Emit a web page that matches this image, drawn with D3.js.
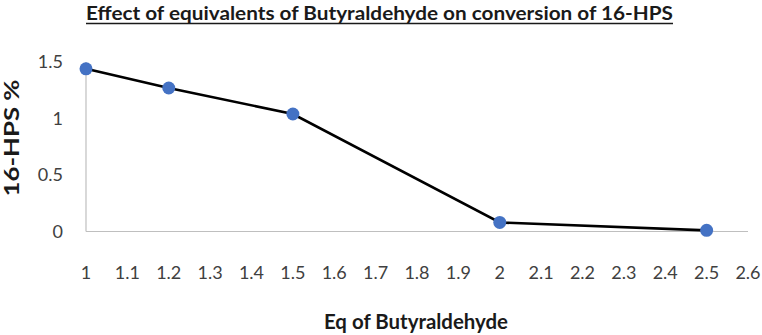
<!DOCTYPE html>
<html>
<head>
<meta charset="utf-8">
<script src="https://cdn.jsdelivr.net/npm/d3@7"></script>
<style>
  body { margin: 0; background: #fff; }
  svg { display: block; font-family: Lato, "Open Sans", sans-serif; }
</style>
</head>
<body>
<script>
// data
const eqValues = [1, 1.2, 1.5, 2, 2.5];
const hpsValues = [1.44, 1.27, 1.04, 0.08, 0.01];
const xTicks = d3.range(10, 27).map(d => d / 10);
const yTicks = [0, 0.5, 1, 1.5];

const width = 762, height = 335;
const margin = { top: 62, right: 14, bottom: 103.5, left: 86 };

const svg = d3.select("body").append("svg")
    .attr("width", width)
    .attr("height", height);

let x = d3.scaleLinear()
    .domain([1, 2.6])
    .range([margin.left, width - margin.right]);

let y = d3.scaleLinear()
    .domain([0, 1.5])
    .range([height - margin.bottom, margin.top]);

// title
svg.append("text")
    .attr("x", 86)
    .attr("y", 20)
    .attr("textLength", 587)
    .attr("lengthAdjust", "spacingAndGlyphs")
    .style("font-size", "19px")
    .style("font-weight", "bold")
    .attr("fill", "#1a1a1a")
    .text("Effect of equivalents of Butyraldehyde on conversion of 16-HPS");

svg.append("line")
    .attr("x1", 86).attr("x2", 673)
    .attr("y1", 23.5).attr("y2", 23.5)
    .attr("stroke", "#1a1a1a")
    .attr("stroke-width", 1.6);

// axes lines
svg.append("line")
    .attr("x1", x(1)).attr("x2", x(2.6))
    .attr("y1", y(0)).attr("y2", y(0))
    .attr("stroke", "#bfbfbf")
    .attr("stroke-width", 1.2);

svg.append("line")
    .attr("x1", x(1)).attr("x2", x(1))
    .attr("y1", y(0)).attr("y2", y(1.5))
    .attr("stroke", "#bfbfbf")
    .attr("stroke-width", 1.2);

// tick labels
svg.append("g")
    .selectAll("text")
    .data(xTicks)
    .join("text")
    .attr("x", d => x(d))
    .attr("y", 279)
    .attr("text-anchor", "middle")
    .style("font-size", "18px")
    .attr("fill", "#404040")
    .text(d => d3.format("")(d));

svg.append("g")
    .selectAll("text")
    .data(yTicks)
    .join("text")
    .attr("x", 63)
    .attr("y", d => y(d) + 6)
    .attr("text-anchor", "end")
    .style("font-size", "18px")
    .attr("fill", "#404040")
    .text(d => d3.format("")(d));

// axis titles
svg.append("text")
    .attr("x", 416)
    .attr("y", 329)
    .attr("text-anchor", "middle")
    .attr("textLength", 184)
    .attr("lengthAdjust", "spacingAndGlyphs")
    .style("font-size", "21px")
    .style("font-weight", "bold")
    .attr("fill", "#1a1a1a")
    .text("Eq of Butyraldehyde");

svg.append("text")
    .attr("transform", "translate(19,138) rotate(-90)")
    .attr("text-anchor", "middle")
    .attr("textLength", 117)
    .attr("lengthAdjust", "spacingAndGlyphs")
    .style("font-size", "20px")
    .style("font-weight", "bold")
    .attr("fill", "#1a1a1a")
    .text("16-HPS %");

// line + markers
const points = eqValues.map((d, i) => [d, hpsValues[i]]);

svg.append("path")
    .datum(points)
    .attr("fill", "none")
    .attr("stroke", "#000")
    .attr("stroke-width", 2.6)
    .attr("d", d3.line().x(d => x(d[0])).y(d => y(d[1])));

svg.append("g")
    .selectAll("circle")
    .data(points)
    .join("circle")
    .attr("cx", d => x(d[0]))
    .attr("cy", d => y(d[1]))
    .attr("r", 6.5)
    .attr("fill", "#4472c4");
</script>
</body>
</html>
